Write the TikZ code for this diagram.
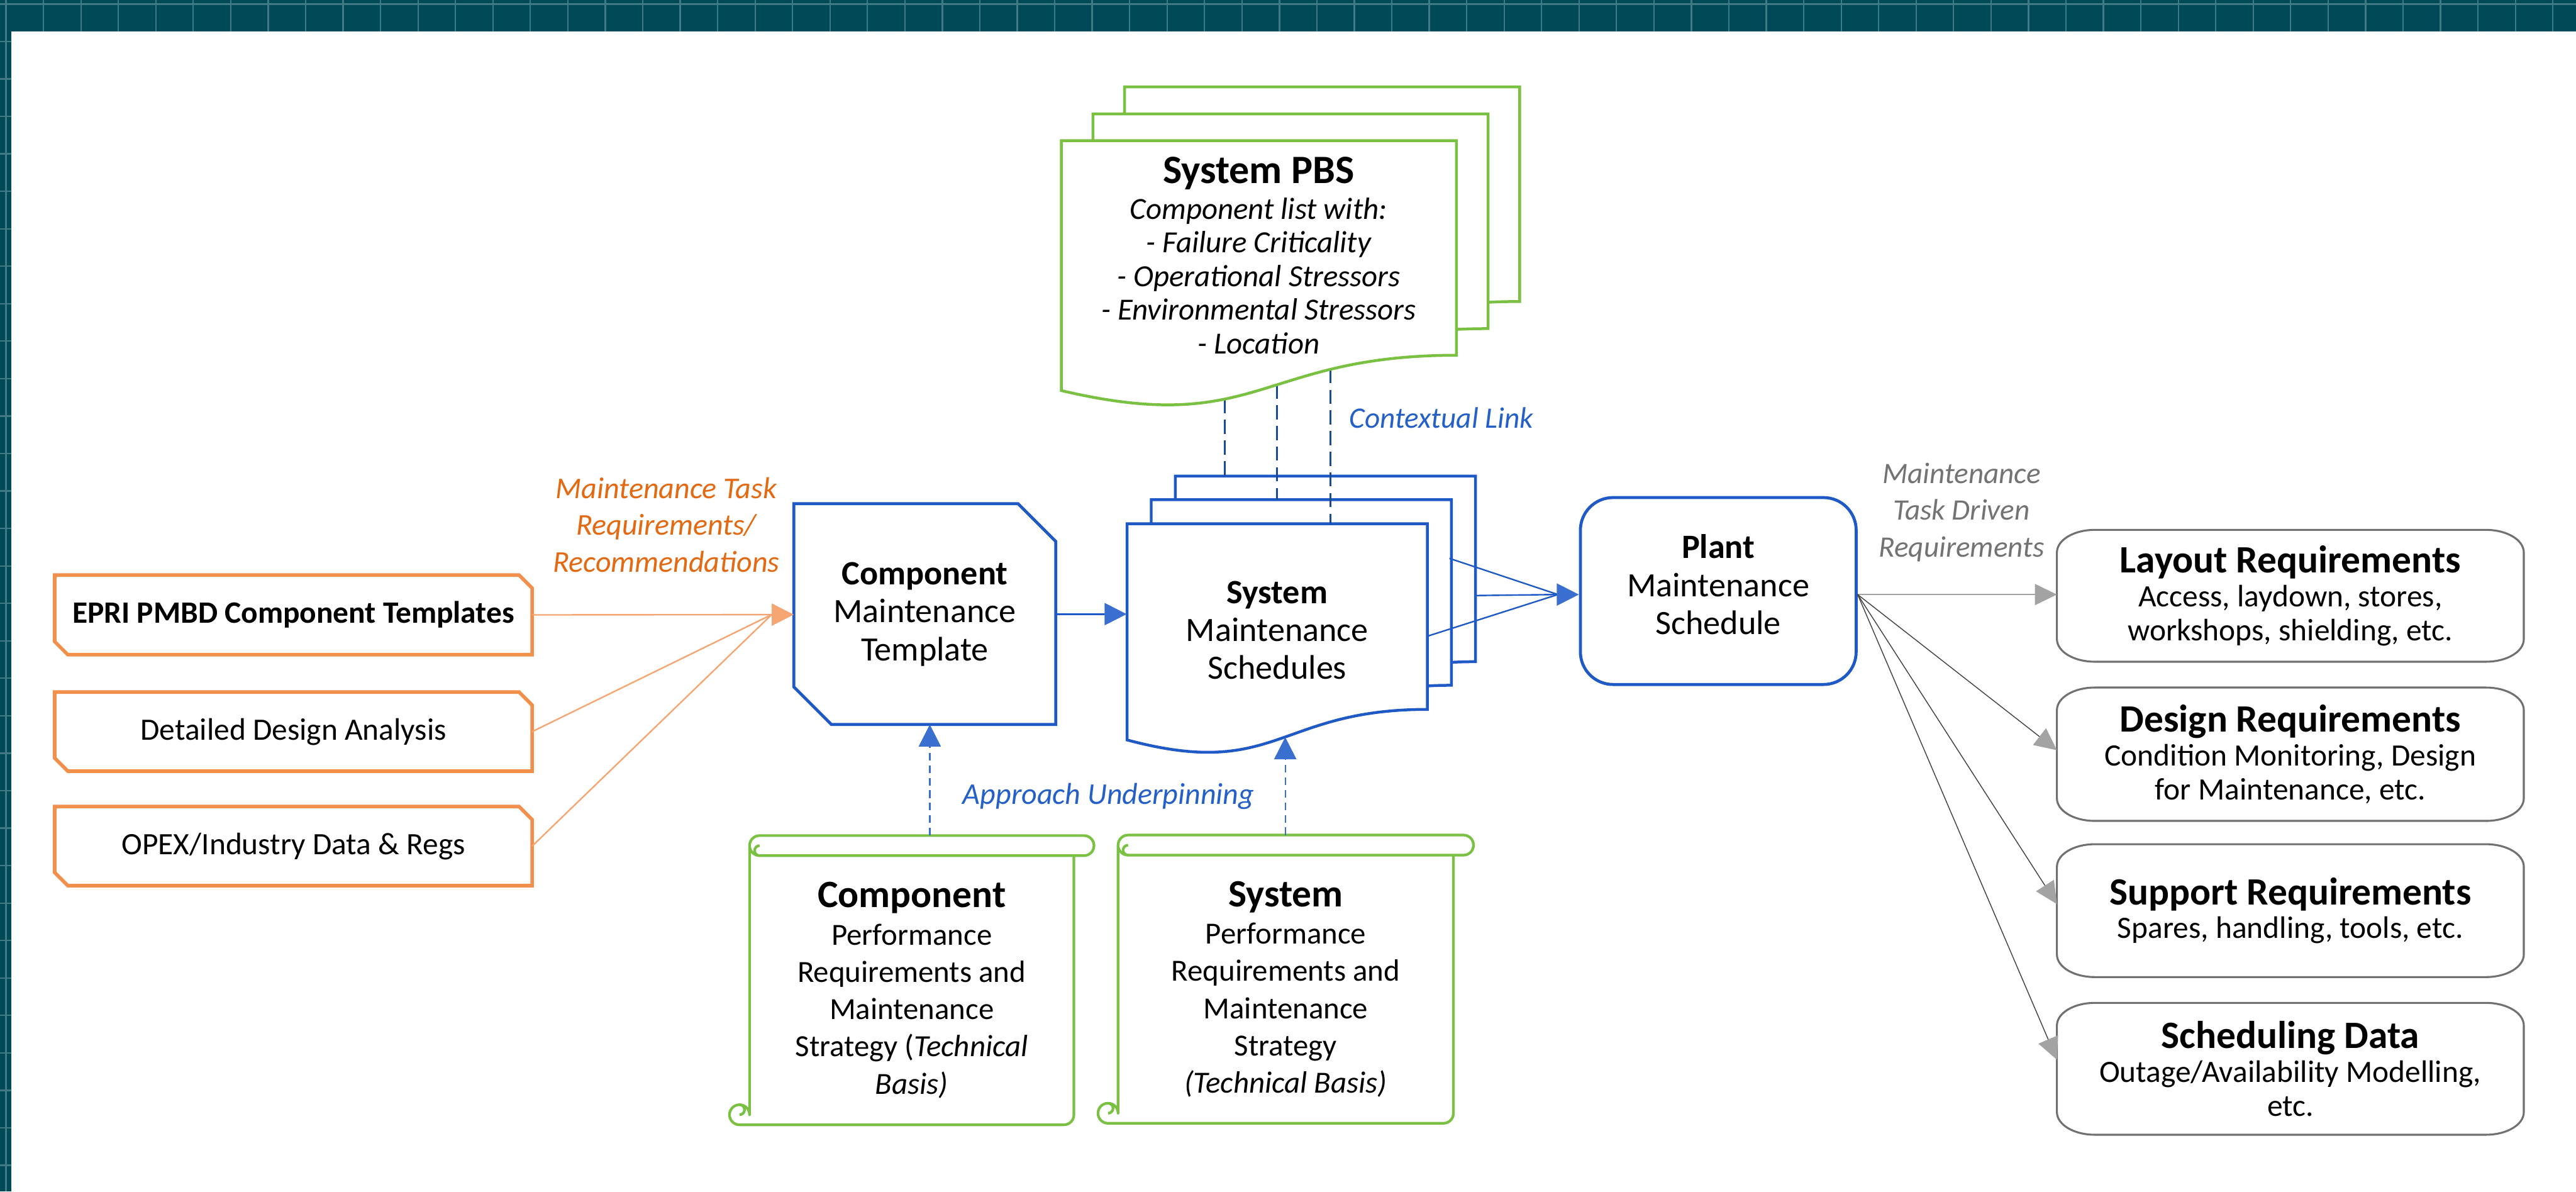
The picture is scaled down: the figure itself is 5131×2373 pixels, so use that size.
\documentclass[tikz,border=0pt]{standalone}
\usepackage{fontspec}
\setmainfont{Carlito}
\usetikzlibrary{arrows.meta,calc}
\definecolor{teal0}{HTML}{004A58}
\definecolor{tealgrid}{HTML}{3F7A85}
\definecolor{oboxc}{HTML}{F28F4A}
\definecolor{olinec}{HTML}{F5A672}
\definecolor{otextc}{HTML}{E36A12}
\definecolor{bboxc}{HTML}{1E59C6}
\definecolor{barrowc}{HTML}{3A6FD0}
\definecolor{bdashc}{HTML}{1B4A94}
\definecolor{btextc}{HTML}{2460C8}
\definecolor{gboxc}{HTML}{7AC143}
\definecolor{grayboxc}{HTML}{707070}
\definecolor{grayarrowc}{HTML}{A3A3A3}
\definecolor{darklinec}{HTML}{404040}
\definecolor{graytextc}{HTML}{737373}
\newcommand\fsz[2]{\fontsize{#1}{#2}\selectfont}
\newcommand\docshape[5]{%
  \draw[#5] (#1,#2) -- ({#1+#3},#2) -- ({#1+#3},{#2+0.802*#4})
    .. controls ({#1+0.5*#3},{#2+0.802*#4}) and ({#1+0.5*#3},{#2+1.1075*#4}) .. (#1,{#2+0.934*#4}) -- cycle;}
\newcommand\scrollshape[4]{%
  \draw[scrollln] (#1,{#4-20}) -- (#1,{#3+20}) arc[start angle=180,end angle=270,radius=20]
    -- ({#2+20},#3) arc[start angle=270,end angle=450,radius=20]
    -- (#2,{#3+40}) -- (#2,{#4-20}) arc[start angle=0,end angle=90,radius=20]
    -- ({#1-20},#4) arc[start angle=90,end angle=360,radius=20] -- cycle;
  \draw[scrollln] (#1,{#3+20}) arc[start angle=180,end angle=90,radius=20] -- (#2,{#3+40});
  \draw[scrollln] ({#1+20},{#3+40}) arc[start angle=90,end angle=270,radius=10];
  \draw[scrollln] ({#1-20},{#4-40}) arc[start angle=270,end angle=450,radius=10];}
\newcommand\mychamfer[3]{\draw[#3] (#1.north west) -- ($(#1.north east)+(-#2,0)$) -- ($(#1.north east)+(0,#2)$) -- (#1.south east) -- ($(#1.south west)+(#2,0)$) -- ($(#1.south west)+(0,-#2)$) -- cycle;}
\newcommand\myrrbox[1]{\draw[grybx] ($(#1.north west)+(75,0)$) -- ($(#1.north east)+(-75,0)$) arc[start angle=270,end angle=360,x radius=75,y radius=45] -- ($(#1.south east)+(0,-45)$) arc[start angle=0,end angle=90,x radius=75,y radius=45] -- ($(#1.south west)+(75,0)$) arc[start angle=90,end angle=180,x radius=75,y radius=45] -- ($(#1.north west)+(0,45)$) arc[start angle=180,end angle=270,x radius=75,y radius=45] -- cycle;}
\begin{document}
\begin{tikzpicture}[x=0.01cm,y=-0.01cm,
  frame/.style={rectangle,inner sep=0pt,align=center,text=black},
  oboxln/.style={draw=oboxc,line width=2pt},
  bboxln/.style={draw=bboxc,line width=1.7pt,line join=miter},
  docb/.style={draw=bboxc,line width=1.6pt,fill=white,line join=miter},
  docg/.style={draw=gboxc,line width=1.6pt,fill=white,line join=miter},
  scrollln/.style={draw=gboxc,line width=1.5pt,line join=round},
  grybx/.style={draw=grayboxc,line width=1.1pt},
  oconn/.style={draw=olinec,line width=0.85pt},
  bconn/.style={draw=bboxc,line width=0.85pt},
  ctxdash/.style={draw=bdashc,line width=1.1pt,dash pattern=on 8pt off 3.7pt},
  appdash/.style={draw=barrowc,line width=0.8pt,dash pattern=on 4.3pt off 2.8pt},
  grayconn/.style={draw=grayarrowc,line width=0.9pt},
  thinconn/.style={draw=darklinec,line width=0.5pt},
  tipb/.style={-{Triangle[length=0.44cm,width=0.44cm,color=barrowc]}},
  tipo/.style={-{Triangle[length=0.44cm,width=0.44cm,color=olinec]}},
  tipg/.style={-{Triangle[length=0.44cm,width=0.42cm,color=grayarrowc]}},
]
\useasboundingbox (0,0) rectangle (5131,2373);
% background frame
\fill[teal0] (0,0) rectangle (5131,2373);
\foreach \i in {0,...,69} {\draw[tealgrid,line width=0.8pt] ({12+74.6*\i},0) -- ({12+74.6*\i},2373);}
\foreach \j in {0,...,32} {\draw[tealgrid,line width=0.8pt] (0,{8+74.6*\j}) -- (5131,{8+74.6*\j});}
\fill[white] (22,63) rectangle (5131,2373);

% System maintenance schedules (stack)
\docshape{2341}{948}{598}{461}{docb}
\docshape{2293}{995}{598}{461}{docb}
\docshape{2245}{1043}{598}{461}{docb}
\node[frame,font=\fsz{19.3pt}{21.4pt},minimum width=5.98cm] (sms) at (2544,1255) {\textbf{System}\\Maintenance\\Schedules};

% contextual links
\coordinate (p1) at (2439,795); \coordinate (q1) at (2439,948);
\coordinate (p2) at (2543,766); \coordinate (q2) at (2543,995);
\coordinate (p3) at (2650,735); \coordinate (q3) at (2650,1043);
\draw[ctxdash] (p1) -- (q1);
\draw[ctxdash] (p2) -- (q2);
\draw[ctxdash] (p3) -- (q3);

% System PBS (stack)
\docshape{2240}{173}{787}{533}{docg}
\docshape{2177}{227}{787}{533}{docg}
\docshape{2114}{280}{787}{533}{docg}
\node[frame,font=\fsz{17.4pt}{19.1pt}\itshape] (pbs) at (2507,509) {{\fsz{22.8pt}{19.1pt}\bfseries\upshape System PBS}\\[1pt]Component list with:\\- Failure Criticality\\- Operational Stressors\\- Environmental Stressors\\- Location};

% orange input boxes
\node[frame,font=\fsz{17.6pt}{19pt}\bfseries,minimum width=9.49cm,minimum height=1.57cm] (epri) at (584.5,1224.5) {EPRI PMBD Component Templates};
\node[frame,font=\fsz{17.6pt}{19pt},minimum width=9.49cm,minimum height=1.56cm] (dda) at (584.5,1457) {Detailed Design Analysis};
\node[frame,font=\fsz{17.6pt}{19pt},minimum width=9.49cm,minimum height=1.56cm] (opex) at (584.5,1685) {OPEX/Industry Data \& Regs};
\mychamfer{epri}{26}{oboxln}
\mychamfer{dda}{26}{oboxln}
\mychamfer{opex}{26}{oboxln}

% component maintenance template
\node[frame,font=\fsz{19.3pt}{21.6pt},minimum width=5.20cm,minimum height=4.38cm] (cmt) at (1842,1223) {\textbf{Component}\\Maintenance\\Template};
\mychamfer{cmt}{75}{bboxln}

% plant maintenance schedule
\node[frame,draw=bboxc,line width=1.7pt,rounded corners=0.65cm,minimum width=5.49cm,minimum height=3.72cm,font=\fsz{19.3pt}{21.5pt}] (pms) at (3422.5,1177) {\textbf{Plant}\\Maintenance\\Schedule\rule[-0.26cm]{0pt}{0.26cm}};

% scrolls
\scrollshape{1493}{2139}{1664}{2240}
\node[frame,font=\fsz{17.4pt}{21.1pt},minimum width=6.46cm,minimum height=5.36cm] (csc) at (1816,1972) {{\fsz{21.9pt}{21.1pt}\bfseries Component}\\Performance\\Requirements and\\Maintenance\\Strategy (\textit{Technical}\\\textit{Basis)}};
\scrollshape{2227}{2895}{1663}{2237}
\node[frame,font=\fsz{17.4pt}{21.1pt},minimum width=6.68cm,minimum height=5.34cm] (ssc) at (2561,1970) {{\fsz{21.9pt}{21.1pt}\bfseries System}\\Performance\\Requirements and\\Maintenance\\Strategy\\\textit{(Technical Basis)}};

% right output boxes
\node[frame,font=\fsz{17.6pt}{19.1pt},minimum width=9.28cm,minimum height=2.61cm] (layout) at (4562,1186.5) {{\fsz{21.9pt}{19.1pt}\bfseries Layout Requirements}\\Access, laydown, stores,\\workshops, shielding, etc.};
\node[frame,font=\fsz{17.6pt}{19.1pt},minimum width=9.28cm,minimum height=2.64cm] (design) at (4562,1502) {{\fsz{21.9pt}{19.1pt}\bfseries Design Requirements}\\Condition Monitoring, Design\\for Maintenance, etc.};
\node[frame,font=\fsz{17.6pt}{19.1pt},minimum width=9.28cm,minimum height=2.63cm] (support) at (4562,1813.5) {{\fsz{21.9pt}{19.1pt}\bfseries Support Requirements}\\Spares, handling, tools, etc.};
\node[frame,font=\fsz{17.6pt}{19.1pt},minimum width=9.28cm,minimum height=2.61cm] (sched) at (4562,2128.5) {{\fsz{21.9pt}{19.1pt}\bfseries Scheduling Data}\\Outage/Availability Modelling,\\etc.};
\myrrbox{layout}
\myrrbox{design}
\myrrbox{support}
\myrrbox{sched}

% labels
\node[frame,font=\fsz{17.1pt}{20.9pt}\itshape,text=otextc] (lblmtr) at (1327,1045) {Maintenance Task\\Requirements/\\Recommendations};
\node[frame,font=\fsz{16.8pt}{20pt}\itshape,text=btextc] (lblctx) at (2871,832) {Contextual Link};
\node[frame,font=\fsz{17.1pt}{20pt}\itshape,text=btextc] (lblapp) at (2208,1586) {Approach Underpinning};
\node[frame,font=\fsz{16.8pt}{20.9pt}\itshape,text=graytextc] (lblmtd) at (3907,1020) {Maintenance\\Task Driven\\Requirements};

% connectors: inputs to component template
\coordinate (cin) at (1537,1224);
\draw[oconn] (epri.east) -- (cin);
\draw[oconn] (dda.east) -- (cin);
\draw[oconn] (opex.east) -- (cin);
\draw[oconn,tipo] (cin) -- (cin -| cmt.west);

% component template to system schedules
\draw[bconn,tipb] (cmt.east) -- (cmt.east -| sms.west);

% system schedules to plant
\coordinate (s1) at (2887,1112);
\coordinate (s2) at (2938,1186);
\coordinate (s3) at (2843,1267);
\coordinate (pin) at (3103,1184);
\draw[bconn] (s1) -- (pin);
\draw[bconn] (s2) -- (pin);
\draw[bconn] (s3) -- (pin);
\draw[bconn,tipb] (pin) -- (pin -| pms.west);

% approach underpinning
\coordinate (a1) at (1852,1664);
\coordinate (a2) at (2560,1663);
\coordinate (a2e) at (2560,1468);
\draw[appdash,tipb] (a1) -- (a1 |- cmt.south);
\draw[appdash,tipb] (a2) -- (a2e);

% plant to outputs
\coordinate (pout) at ($(pms.east)+(0,7)$);
\draw[grayconn,tipg] (pout) -- (pout -| layout.west);
\draw[thinconn,tipg] (pout) -- ($(design.west)+(0,-8)$);
\draw[thinconn,tipg] (pout) -- ($(support.west)+(0,-13)$);
\draw[thinconn,tipg] (pout) -- ($(sched.west)+(0,-18)$);
\end{tikzpicture}
\end{document}
